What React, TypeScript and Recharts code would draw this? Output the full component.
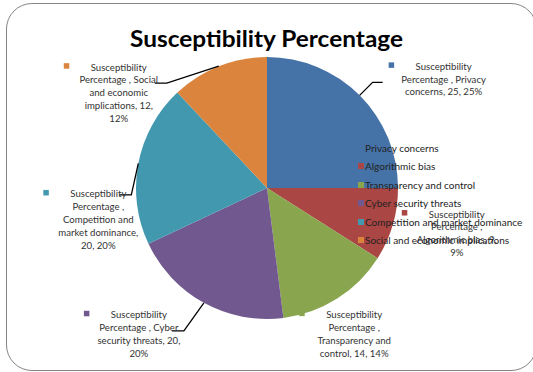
import React from 'react';
import { PieChart, Pie, Cell, Legend } from 'recharts';

// Chart data
const seriesName = 'Susceptibility Percentage';
const categories = [
  'Privacy concerns',
  'Algorithmic bias',
  'Transparency and control',
  'Cyber security threats',
  'Competition and market dominance',
  'Social and economic implications',
];
const susceptibility = [25, 9, 14, 20, 20, 12];
const sliceColors = ['#4572A7', '#AA4643', '#89A54E', '#71588F', '#4198AF', '#DB843D'];

const data = categories.map((name, i) => ({ name, value: susceptibility[i] }));
const total = susceptibility.reduce((a, b) => a + b, 0);

const FONT = 'Lato, "Open Sans", sans-serif';
const RAD = Math.PI / 180;
const LINE_H = 12.8;

// Label placement relative to the slice's outer edge at its mid-angle
type LabelLayout = { dx: number; dy: number; wrap: number; leader?: [number, number][] };
const labelLayout: LabelLayout[] = [
  { dx: 84, dy: -29, wrap: 20, leader: [[13, -13], [23, -13]] },
  { dx: 64, dy: -10.5, wrap: 20 },
  { dx: 17, dy: 16, wrap: 16 },
  { dx: -65, dy: 12, wrap: 21, leader: [[-20, 28], [-32, 28]] },
  { dx: -40, dy: 30.5, wrap: 17, leader: [[-7, 31.5], [-19, 31.5]] },
  { dx: -100, dy: 1, wrap: 19, leader: [[-52, 17], [-64, 17]] },
];

function wrapWords(text: string, max: number): string[] {
  const words = text.split(' ');
  const lines: string[] = [];
  let cur = '';
  for (const w of words) {
    const next = cur ? cur + ' ' + w : w;
    if (next.length > max && cur) {
      lines.push(cur);
      cur = w;
    } else {
      cur = next;
    }
  }
  if (cur) lines.push(cur);
  return lines;
}

const renderLabel = (props: any) => {
  const { cx, cy, midAngle, outerRadius, index } = props;
  const layout = labelLayout[index];
  const ex = cx + outerRadius * Math.cos(-midAngle * RAD);
  const ey = cy + outerRadius * Math.sin(-midAngle * RAD);
  const value = susceptibility[index];
  const pct = Math.round((value / total) * 100);
  const text = `${seriesName} , ${categories[index]}, ${value}, ${pct}%`;
  const lines = wrapWords(text, layout.wrap);
  const tx = ex + layout.dx;
  const ty = ey + layout.dy;
  const leaderPts = layout.leader
    ? [[ex, ey], ...layout.leader.map(([a, b]) => [ex + a, ey + b])]
    : null;
  return (
    <g key={`lbl-${index}`}>
      {leaderPts && (
        <polyline
          points={leaderPts.map((p) => p.join(',')).join(' ')}
          fill="none"
          stroke="#000"
          strokeWidth={1.3}
        />
      )}
      <rect x={tx - 55} y={ty - 4} width={5.5} height={5.5} fill={sliceColors[index]} />
      <text
        x={tx}
        y={ty}
        textAnchor="middle"
        fontFamily={FONT}
        fontSize={9.6}
        fill="#333"
      >
        {lines.map((l, i) => (
          <tspan key={i} x={tx} y={ty + i * LINE_H} dominantBaseline="central">
            {l}
          </tspan>
        ))}
      </text>
    </g>
  );
};

const renderLegend = () => (
  <div style={{ fontFamily: FONT, fontSize: 10, color: '#222' }}>
    {categories.map((c, i) => (
      <div
        key={c}
        style={{ height: 18.4, display: 'flex', alignItems: 'center', whiteSpace: 'nowrap' }}
      >
        <span
          style={{
            display: 'inline-block',
            width: 6,
            height: 6,
            background: sliceColors[i],
            marginRight: 1,
          }}
        />
        <span>{c}</span>
      </div>
    ))}
  </div>
);

export default function App() {
  return (
    <div style={{ position: 'absolute', left: 0, top: 0, width: 533, height: 372, background: '#fff', overflow: 'hidden' }}>
      <div
        style={{
          position: 'absolute',
          left: 6,
          top: 2.5,
          width: 531,
          height: 368,
          boxSizing: 'border-box',
          border: '1.6px solid #858585',
          borderRadius: 26,
        }}
      />
      <PieChart width={533} height={372} margin={{ top: 0, right: 0, bottom: 0, left: 0 }} style={{ position: 'absolute', left: 0, top: 0 }}>
        <Pie
          data={data}
          dataKey="value"
          nameKey="name"
          cx={267}
          cy={188}
          outerRadius={131}
          startAngle={90}
          endAngle={-270}
          stroke="none"
          isAnimationActive={false}
          label={renderLabel}
          labelLine={false}
        >
          {data.map((d, i) => (
            <Cell key={d.name} fill={sliceColors[i]} />
          ))}
        </Pie>
        <Legend
          content={renderLegend}
          layout="vertical"
          wrapperStyle={{ position: 'absolute', left: 358, top: 138.8, width: 180, height: 112 }}
        />
      </PieChart>
      <svg width={533} height={372} style={{ position: 'absolute', left: 0, top: 0, pointerEvents: 'none' }}>
        <text
          x={266.5}
          y={47}
          textAnchor="middle"
          fontFamily={FONT}
          fontWeight="bold"
          fontSize={22}
          fill="#000"
          textLength={273}
          lengthAdjust="spacingAndGlyphs"
        >
          {seriesName}
        </text>
      </svg>
    </div>
  );
}
